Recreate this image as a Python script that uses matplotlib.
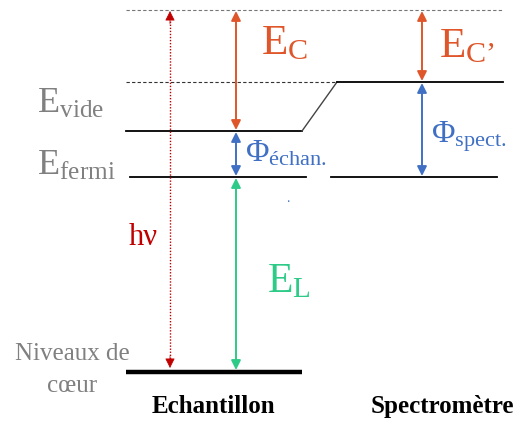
import matplotlib
matplotlib.use('Agg')
import matplotlib.pyplot as plt

plt.rcParams['font.family'] = ['Liberation Serif', 'DejaVu Serif']
plt.rcParams['mathtext.fontset'] = 'custom'
plt.rcParams['mathtext.rm'] = 'Liberation Serif'
plt.rcParams['mathtext.it'] = 'Liberation Serif:italic'
plt.rcParams['mathtext.bf'] = 'Liberation Serif:bold'

# niveaux d'énergie (en pixels de l'image, y vers le bas)
niveau_haut = 10        # énergie cinétique max (pointillé)
vide_spect = 82         # niveau du vide du spectromètre
vide_echan = 131        # niveau du vide de l'échantillon
fermi = 177             # niveau de Fermi commun
coeur = 372             # niveaux de coeur

x_echan = [126, 302]    # étendue des niveaux de l'échantillon
x_spect = [337, 503]    # étendue des niveaux du spectromètre
x_fermi_spect = [331, 497]

x_hv = 170
x_fleches_echan = 236
x_fleches_spect = 422

orange = '#E0562B'
rouge = '#C00000'
bleu = '#4070C4'
vert = '#2DCB87'
gris = '#808080'

fig = plt.figure(figsize=(5.17, 4.23), dpi=100)
ax = fig.add_axes([0, 0, 1, 1])
ax.set_xlim(0, 517)
ax.set_ylim(423, 0)
ax.axis('off')

# lignes pointillées
ax.plot([x_echan[0], x_spect[1]], [niveau_haut, niveau_haut], color='#777777', lw=0.8, ls=(0, (3, 2)))
ax.plot([x_echan[0], x_spect[0]], [vide_spect, vide_spect], color='#333333', lw=0.8, ls=(0, (3, 2)))

# niveaux pleins
ax.plot([x_echan[0], x_echan[1]], [vide_echan, vide_echan], color='black', lw=1.3)
ax.plot([x_echan[1], x_spect[0]], [vide_echan, vide_spect], color='#444444', lw=1.0)
ax.plot([x_spect[0], x_spect[1]], [vide_spect, vide_spect], color='black', lw=1.3)
ax.plot([x_echan[0] + 4, x_echan[1] + 4], [fermi, fermi], color='black', lw=1.3)
ax.plot(x_fermi_spect, [fermi, fermi], color='black', lw=1.3)
ax.plot(x_echan, [coeur, coeur], color='black', lw=3.2, solid_capstyle='butt')


def fleche(x, y1, y2, couleur):
    ax.annotate('', xy=(x, y1), xytext=(x, y2),
                arrowprops=dict(arrowstyle='<|-|>', color=couleur, lw=1.4,
                                mutation_scale=14, shrinkA=0, shrinkB=0))


fleche(x_fleches_echan, niveau_haut + 1, vide_echan - 1, orange)
fleche(x_fleches_echan, vide_echan + 1, fermi - 1, bleu)
fleche(x_fleches_echan, fermi + 1, coeur - 2, vert)
fleche(x_fleches_spect, niveau_haut + 1, vide_spect - 1, orange)
fleche(x_fleches_spect, vide_spect + 1, fermi - 1, bleu)

# h nu : pointillé avec deux pointes
ax.plot([x_hv, x_hv], [niveau_haut + 8, coeur - 10], color=rouge, lw=1.0, ls=(0, (1, 1.2)))
for y_a, y_b in [(niveau_haut + 14, niveau_haut + 1), (coeur - 16, coeur - 4)]:
    ax.annotate('', xy=(x_hv, y_b), xytext=(x_hv, y_a),
                arrowprops=dict(arrowstyle='-|>', color=rouge, lw=0.5,
                                mutation_scale=15, shrinkA=0, shrinkB=0))

# textes
ax.text(261, 54, r'$\mathrm{E}_{\mathrm{C}}$', color=orange, fontsize=31, va='baseline')
ax.text(439, 57, r'$\mathrm{E}_{\mathrm{C’}}$', color=orange, fontsize=31, va='baseline')
ax.text(37, 113, r'$\mathrm{E}_{\mathrm{vide}}$', color=gris, fontsize=26, va='baseline')
ax.text(37, 175, r'$\mathrm{E}_{\mathrm{fermi}}$', color=gris, fontsize=26, va='baseline')
ax.text(245, 161, r'$\Phi_{\mathrm{échan.}}$', color=bleu, fontsize=23, va='baseline')
ax.text(431, 142, r'$\Phi_{\mathrm{spect.}}$', color=bleu, fontsize=23, va='baseline')
ax.text(129, 245, 'hν', color=rouge, fontsize=22, va='baseline')
ax.text(267, 292, r'$\mathrm{E}_{\mathrm{L}}$', color=vert, fontsize=30, va='baseline')
ax.text(288, 202, '.', color=bleu, fontsize=10, va='baseline', ha='center')
ax.text(72, 360, 'Niveaux de', color=gris, fontsize=18, va='baseline', ha='center')
ax.text(72, 392, 'cœur', color=gris, fontsize=18, va='baseline', ha='center')
ax.text(213, 413, 'Echantillon', color='black', fontsize=18, fontweight='bold', va='baseline', ha='center')
ax.text(442, 413, 'Spectromètre', color='black', fontsize=18, fontweight='bold', va='baseline', ha='center')

fig.savefig('out.png', dpi=100)
